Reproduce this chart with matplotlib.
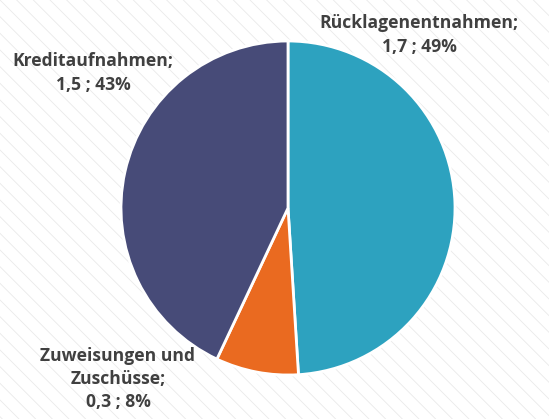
import matplotlib
matplotlib.use("Agg")
import matplotlib.pyplot as plt
from matplotlib.patches import Rectangle

# data
labels = ["Rücklagenentnahmen", "Zuweisungen und\nZuschüsse", "Kreditaufnahmen"]
values = [1.7, 0.3, 1.5]
shares = [49, 8, 43]
colors = ["#2DA2BF", "#EA6A20", "#474B78"]

plt.rcParams["font.family"] = ["Open Sans", "DejaVu Sans"]
plt.rcParams["hatch.color"] = "#EAEAEA"
plt.rcParams["hatch.linewidth"] = 0.6

W, H = 549, 419
fig = plt.figure(figsize=(W / 100, H / 100), dpi=100)
ax = fig.add_axes([0, 0, 1, 1])

# striped background
ax.add_patch(Rectangle((0, 0), W, H, facecolor="white", edgecolor="#EAEAEA",
                       hatch="\\\\", linewidth=0, zorder=0))

ax.pie(shares, colors=colors, startangle=90, counterclock=False,
       center=(288, H - 208), radius=167,
       wedgeprops=dict(edgecolor="white", linewidth=2), frame=True)
ax.set_xlim(0, W)
ax.set_ylim(0, H)
ax.set_aspect("equal")
ax.axis("off")

def lab(i):
    return f"{labels[i]};\n{values[i]:.1f}".replace(".", ",") + f" ; {shares[i]}%"

txt = dict(fontsize=12.6, fontweight="bold", color="#404040",
           ha="center", va="center", linespacing=1.38)
ax.text(419, H - 35, lab(0), **txt)
ax.text(93, H - 73, lab(2), **txt)
ax.text(118, H - 379, lab(1), **txt)

fig.savefig("out.png", dpi=100)
